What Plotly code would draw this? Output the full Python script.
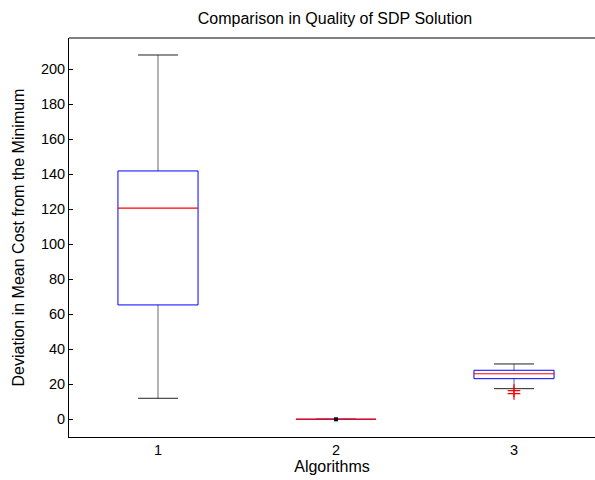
import plotly.graph_objects as go

# ---- data ----
algorithms = [1, 2, 3]
tick_labels = ["1", "2", "3"]
lower_whisker = [12.0, 0.0, 17.5]
q1 = [65.3, 0.0, 23.2]
median = [120.6, 0.0, 26.0]
q3 = [141.8, 0.0, 28.0]
upper_whisker = [208.0, 0.0, 31.6]
outliers = [[], [], [16.4, 14.7]]
y_ticks = [0, 20, 40, 60, 80, 100, 120, 140, 160, 180, 200]

BOX_HALF = 0.225
CAP_HALF = 0.1125
FONT = "Liberation Sans, Arial, Helvetica, sans-serif"

fig = go.Figure()

# whiskers (vertical)
wx, wy = [], []
for x, lw, a, b, uw in zip(algorithms, lower_whisker, q1, q3, upper_whisker):
    wx += [x, x, None, x, x, None]
    wy += [uw, b, None, a, lw, None]
fig.add_trace(go.Scatter(x=wx, y=wy, mode="lines",
                         line=dict(color="#666666", width=1), hoverinfo="skip"))

# caps
cx, cy = [], []
for x, lw, uw in zip(algorithms, lower_whisker, upper_whisker):
    cx += [x - CAP_HALF, x + CAP_HALF, None, x - CAP_HALF, x + CAP_HALF, None]
    cy += [uw, uw, None, lw, lw, None]
fig.add_trace(go.Scatter(x=cx, y=cy, mode="lines",
                         line=dict(color="#222222", width=1), hoverinfo="skip"))

# boxes
bx, by = [], []
for x, a, b in zip(algorithms, q1, q3):
    bx += [x - BOX_HALF, x + BOX_HALF, x + BOX_HALF, x - BOX_HALF, x - BOX_HALF, None]
    by += [a, a, b, b, a, None]
fig.add_trace(go.Scatter(x=bx, y=by, mode="lines",
                         line=dict(color="#0000ff", width=1), hoverinfo="skip"))

# medians
mx, my = [], []
for x, m in zip(algorithms, median):
    mx += [x - BOX_HALF, x + BOX_HALF, None]
    my += [m, m, None]
fig.add_trace(go.Scatter(x=mx, y=my, mode="lines",
                         line=dict(color="#ff0000", width=1.2), hoverinfo="skip"))

# degenerate whiskers (zero length) shown as a dot
dx = [x for x, lw, uw in zip(algorithms, lower_whisker, upper_whisker) if lw == uw]
dy = [lw for lw, uw in zip(lower_whisker, upper_whisker) if lw == uw]
fig.add_trace(go.Scatter(x=dx, y=dy, mode="markers",
                         marker=dict(color="black", size=4, symbol="square"),
                         hoverinfo="skip"))

# outliers
ox, oy = [], []
for x, outs in zip(algorithms, outliers):
    for v in outs:
        ox.append(x)
        oy.append(v)
fig.add_trace(go.Scatter(x=ox, y=oy, mode="markers",
                         marker=dict(symbol="cross-thin", size=9,
                                     line=dict(color="#ff0000", width=1.2)),
                         hoverinfo="skip"))

fig.update_layout(
    width=595, height=480,
    margin=dict(l=69, r=0, t=38, b=43),
    paper_bgcolor="white", plot_bgcolor="white",
    showlegend=False,
    font=dict(family=FONT, color="black", size=14.5),
    title=dict(text="Comparison in Quality of SDP Solution",
               x=335 / 595, xanchor="center", xref="container",
               y=1 - 18 / 480, yanchor="middle", yref="container",
               font=dict(size=16, family=FONT, color="black")),
    xaxis=dict(range=[0.5, 0.5 + 526 / 178.0], tickvals=algorithms, ticktext=tick_labels,
               ticks="", showgrid=False, zeroline=False,
               showline=True, linecolor="black", linewidth=1,
               title=dict(text="Algorithms", font=dict(size=16), standoff=2)),
    yaxis=dict(range=[-10.1, 217.7], tickvals=y_ticks,
               ticks="inside", ticklen=4, tickcolor="black",
               showgrid=False, zeroline=False,
               showline=True, linecolor="black", linewidth=1,
               title=dict(text="Deviation in Mean Cost from the Minimum",
                          font=dict(size=16), standoff=12)),
    shapes=[dict(type="line", xref="paper", yref="paper", x0=0, x1=1, y0=1, y1=1,
                 line=dict(color="black", width=1))],
)

fig.write_html("out.html")
